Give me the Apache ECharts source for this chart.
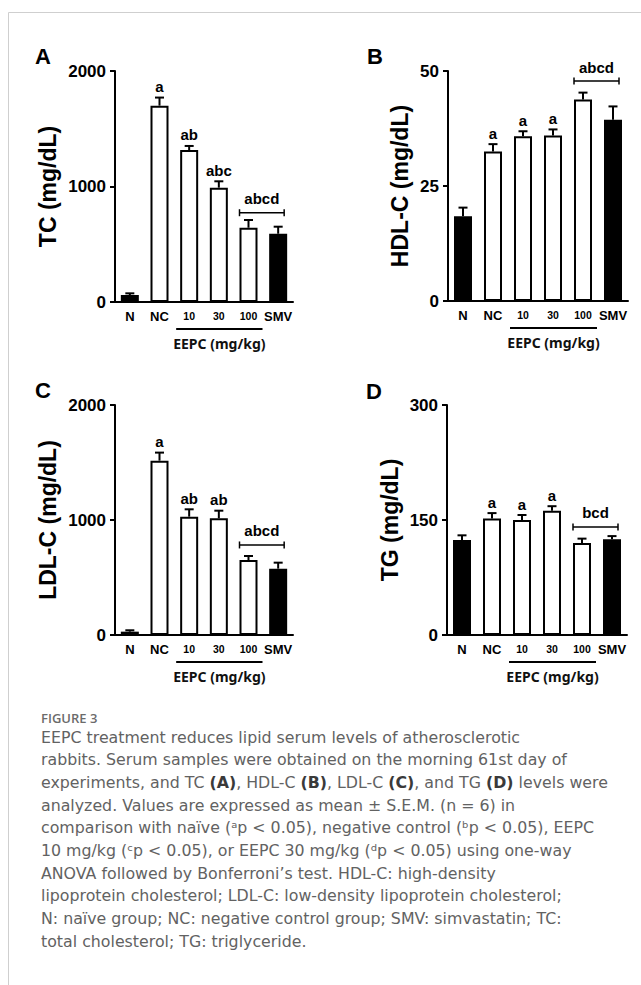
<!DOCTYPE html>
<html>
<head>
<meta charset="utf-8">
<script src="https://cdn.jsdelivr.net/npm/echarts@6/dist/echarts.min.js"></script>
<style>
html,body{margin:0;padding:0;background:#fff;}
#chart{width:641px;height:985px;}
</style>
</head>
<body>
<div id="chart"></div>
<script>
// ---------- data ----------
const categories = ['N', 'NC', '10', '30', '100', 'SMV'];
const eepcGroups = ['10', '30', '100'];
const filledGroups = ['N', 'SMV'];

const tcMean = [60, 1700, 1316, 990, 643, 591];
const tcSem = [15, 70, 35, 55, 67, 61];
const tcLetters = ['', 'a', 'ab', 'abc', '', ''];

const hdlMean = [18.4, 32.5, 35.8, 36.0, 43.8, 39.4];
const hdlSem = [1.9, 1.6, 1.1, 1.3, 1.5, 2.9];
const hdlLetters = ['', 'a', 'a', 'a', '', ''];

const ldlMean = [29, 1516, 1029, 1015, 652, 577];
const ldlSem = [12, 70, 64, 66, 35, 52];
const ldlLetters = ['', 'a', 'ab', 'ab', '', ''];

const tgMean = [124, 152, 150, 162, 120, 125];
const tgSem = [6, 7, 6.5, 6, 5.7, 4];
const tgLetters = ['', 'a', 'a', 'a', '', ''];

const yMax = [2000, 50, 2000, 300];
const yNames = ['TC (mg/dL)', 'HDL-C (mg/dL)', 'LDL-C (mg/dL)', 'TG (mg/dL)'];
const panelLabels = ['A', 'B', 'C', 'D'];
const bracketGroups = ['100', 'SMV'];
const bracketText = ['abcd', 'abcd', 'abcd', 'bcd'];
const bracketLevel = [773, 47.8, 783, 141];
const groupAxisTitle = 'EEPC (mg/kg)';

const captionTitle = 'FIGURE 3';
const captionLines = [
  'EEPC treatment reduces lipid serum levels of atherosclerotic',
  'rabbits. Serum samples were obtained on the morning 61st day of',
  'experiments, and TC {b|(A)}, HDL-C {b|(B)}, LDL-C {b|(C)}, and TG {b|(D)} levels were',
  'analyzed. Values are expressed as mean ± S.E.M. (n = 6) in',
  'comparison with naïve (ᵃp < 0.05), negative control (ᵇp < 0.05), EEPC',
  '10 mg/kg (ᶜp < 0.05), or EEPC 30 mg/kg (ᵈp < 0.05) using one-way',
  'ANOVA followed by Bonferroni’s test. HDL-C: high-density',
  'lipoprotein cholesterol; LDL-C: low-density lipoprotein cholesterol;',
  'N: naïve group; NC: negative control group; SMV: simvastatin; TC:',
  'total cholesterol; TG: triglyceride.'
];

// ---------- layout ----------
const FF = '"Liberation Sans", Arial, sans-serif';
const CF = '"DejaVu Sans", sans-serif';
const grids = [
  {left: 115, top: 71, width: 178, height: 231},
  {left: 448, top: 71, width: 180, height: 230},
  {left: 115, top: 405, width: 178, height: 230},
  {left: 447, top: 405, width: 180, height: 230}
];
const nameGaps = [56, 37, 56, 46];
const panelLetterPos = [[43, 56], [375, 56], [43, 390], [374, 391]];

const means = [tcMean, hdlMean, ldlMean, tgMean];
const sems = [tcSem, hdlSem, ldlSem, tgSem];
const letters = [tcLetters, hdlLetters, ldlLetters, tgLetters];

function barSeries(k) {
  return {
    type: 'bar', xAxisIndex: k, yAxisIndex: k, barWidth: 18, z: 2,
    data: means[k].map((v, i) => ({
      value: v,
      itemStyle: {
        color: filledGroups.includes(categories[i]) ? '#000' : '#fff',
        borderColor: '#000', borderWidth: 2
      }
    }))
  };
}

function errSeries(k) {
  return {
    type: 'custom', xAxisIndex: k, yAxisIndex: k, clip: false, z: 3, silent: true,
    data: means[k].map((m, i) => [i, m, sems[k][i]]),
    renderItem(params, api) {
      const i = api.value(0), m = api.value(1), s = api.value(2);
      const p0 = api.coord([i, m]);
      const p1 = api.coord([i, m + s]);
      const ch = [
        {type: 'line', shape: {x1: p0[0], y1: p0[1], x2: p1[0], y2: p1[1]}, style: {stroke: '#000', lineWidth: 2}},
        {type: 'line', shape: {x1: p1[0] - 4.5, y1: p1[1], x2: p1[0] + 4.5, y2: p1[1]}, style: {stroke: '#000', lineWidth: 2}}
      ];
      const t = letters[k][params.dataIndex];
      if (t) ch.push({type: 'text', x: p1[0], y: p1[1] - 11,
        style: {text: t, font: 'bold 15px ' + FF, fill: '#000', align: 'center', verticalAlign: 'middle'}});
      return {type: 'group', children: ch};
    }
  };
}

function decorSeries(k) {
  const b0 = categories.indexOf(bracketGroups[0]);
  const b1 = categories.indexOf(bracketGroups[1]);
  const g0 = categories.indexOf(eepcGroups[0]);
  const g1 = categories.indexOf(eepcGroups[eepcGroups.length - 1]);
  return {
    type: 'custom', xAxisIndex: k, yAxisIndex: k, clip: false, z: 3, silent: true,
    data: [[b0, b1, bracketLevel[k], g0, g1]],
    renderItem(params, api) {
      const a = api.coord([api.value(0), api.value(2)]);
      const b = api.coord([api.value(1), api.value(2)]);
      const x1 = a[0] - 9, x2 = b[0] + 6, y = a[1];
      const u0 = api.coord([api.value(3), 0]);
      const u1 = api.coord([api.value(4), 0]);
      const ux1 = u0[0] - 13, ux2 = u1[0] + 14, uy = u0[1] + 27;
      return {type: 'group', children: [
        {type: 'line', shape: {x1, y1: y, x2, y2: y}, style: {stroke: '#000', lineWidth: 1.5}},
        {type: 'line', shape: {x1, y1: y - 3.5, x2: x1, y2: y + 3.5}, style: {stroke: '#000', lineWidth: 1.5}},
        {type: 'line', shape: {x1: x2, y1: y - 3.5, x2, y2: y + 3.5}, style: {stroke: '#000', lineWidth: 1.5}},
        {type: 'text', x: (x1 + x2) / 2, y: y - 14,
          style: {text: bracketText[k], font: 'bold 15px ' + FF, fill: '#000', align: 'center', verticalAlign: 'middle'}},
        {type: 'line', shape: {x1: ux1, y1: uy, x2: ux2, y2: uy}, style: {stroke: '#000', lineWidth: 2.2}},
        {type: 'text', x: (ux1 + ux2) / 2, y: uy + 14,
          style: {text: groupAxisTitle, font: 'bold 14px "Noto Sans", sans-serif', fill: '#111', align: 'center', verticalAlign: 'middle'}}
      ]};
    }
  };
}

const xAxes = grids.map((g, k) => ({
  type: 'category', gridIndex: k, data: categories,
  axisLine: {lineStyle: {color: '#000', width: 2}},
  axisTick: {show: false},
  axisLabel: {
    margin: 8, interval: 0,
    formatter: v => eepcGroups.includes(v) ? '{s|' + v + '}' : '{b|' + v + '}',
    rich: {
      b: {fontFamily: FF, fontWeight: 'bold', fontSize: 13, color: '#000'},
      s: {fontFamily: FF, fontWeight: 'bold', fontSize: 10.5, color: '#000'}
    }
  }
}));

const yAxes = grids.map((g, k) => ({
  type: 'value', gridIndex: k, min: 0, max: yMax[k], interval: yMax[k] / 2,
  name: yNames[k], nameLocation: 'middle', nameGap: nameGaps[k],
  nameTextStyle: {fontFamily: FF, fontWeight: 'bold', fontSize: 23, color: '#000'},
  axisLine: {show: true, lineStyle: {color: '#000', width: 2}},
  axisTick: {show: true, length: 5, lineStyle: {color: '#000', width: 2}},
  axisLabel: {margin: 9, fontFamily: FF, fontWeight: 'bold', fontSize: 17, color: '#000',
    formatter: v => String(v)},
  splitLine: {show: false}
}));

const series = [];
for (let k = 0; k < 4; k++) {
  series.push(barSeries(k), errSeries(k), decorSeries(k));
}

const graphic = [
  {type: 'line', shape: {x1: 8.5, y1: 12.5, x2: 641, y2: 12.5}, style: {stroke: '#cfcfcf', lineWidth: 1}},
  {type: 'line', shape: {x1: 8.5, y1: 12.5, x2: 8.5, y2: 985}, style: {stroke: '#cfcfcf', lineWidth: 1}}
];
panelLabels.forEach((t, k) => {
  graphic.push({type: 'text', x: panelLetterPos[k][0], y: panelLetterPos[k][1],
    style: {text: t, font: 'bold 22px ' + FF, fill: '#000', align: 'center', verticalAlign: 'middle'}});
});
graphic.push({type: 'text', left: 41, top: 711,
  style: {text: captionTitle, font: '600 13px "Open Sans", sans-serif', fill: '#6b6b6b'}});
captionLines.forEach((line, i) => {
  graphic.push({type: 'text', left: 41, top: 729 + i * 22.7,
    style: {text: line, fontFamily: CF, fontSize: 15.8, fill: '#626262',
      rich: {b: {fontFamily: CF, fontSize: 15.8, fontWeight: 'bold', fill: '#3a3a3a'}}}});
});

const chart = echarts.init(document.getElementById('chart'), null, {renderer: 'svg'});
chart.setOption({
  animation: false,
  backgroundColor: '#fff',
  grid: grids,
  xAxis: xAxes,
  yAxis: yAxes,
  series,
  graphic
});
</script>
</body>
</html>
